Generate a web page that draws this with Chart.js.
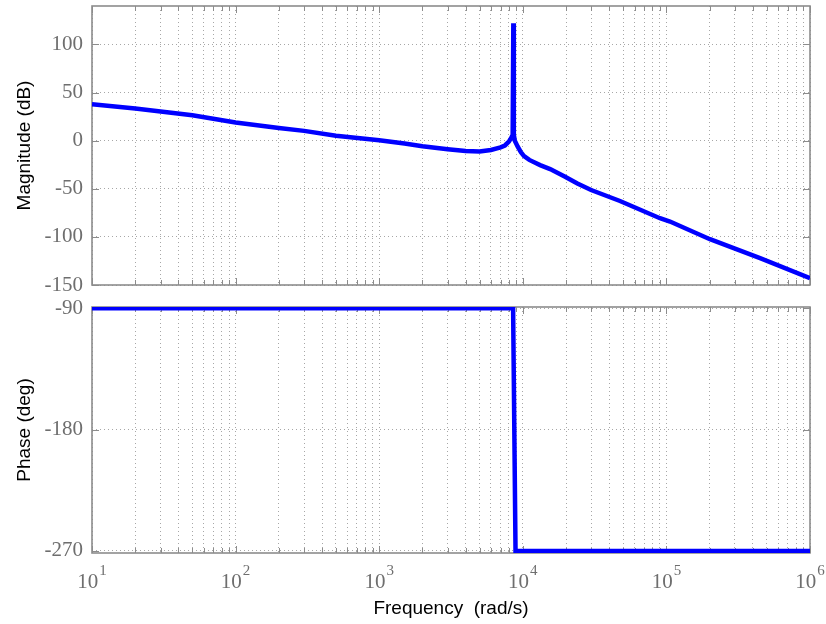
<!DOCTYPE html>
<html>
<head>
<meta charset="utf-8">
<title>Bode Diagram</title>
<script src="https://cdn.jsdelivr.net/npm/chart.js@4.4.1/dist/chart.umd.min.js"></script>
<style>
  html, body { margin: 0; padding: 0; background: #ffffff; }
  #wrap { position: relative; width: 826px; height: 624px; }
  #wrap canvas { position: absolute; left: 0; top: 0; }
</style>
</head>
<body>
<div id="wrap">
  <canvas id="mag" width="826" height="624"></canvas>
  <canvas id="phase" width="826" height="624"></canvas>
</div>
<script>
// Frequency response samples (rad/s) and magnitude (dB)
const freqMag = [10, 20, 50, 100, 200, 300, 500, 1000, 1500, 2000, 3000, 4000, 5000, 6000, 7000,
  7500, 8000, 8300, 8500, 8590, 8660, 8800, 9200, 9700, 10200, 11100, 12200, 13200, 15500, 19700,
  24000, 29900, 47500, 90200, 105900, 201000, 449000, 1000000];
const magDb = [37.8, 33.4, 26.4, 19.0, 13.3, 10.2, 5.2, 0.5, -2.9, -5.7, -8.8, -10.6, -11.2, -9.6, -7.0,
  -5.0, -1.0, 3.0, 6.0, 122.0, 6.0, 0.0, -6.0, -12.0, -16.0, -20.0, -23.0, -25.4, -29.5, -37.5,
  -44.5, -51.3, -62.7, -80.6, -84.0, -102.4, -122.0, -142.8];

// Phase (deg)
const freqPhase = [10, 8560, 8900, 1000000];
const phaseDeg = [-90, -90, -270, -270];

// Axis ticks
const magTicks = [-150, -100, -50, 0, 50, 100];
const phaseTicks = [-270, -180, -90];
const decadeExps = [1, 2, 3, 4, 5, 6];

const LINE_BLUE = '#0000ff';
const TICK_GREY = '#6e6e6e';
const FRAME_GREY = '#8c8c8c';
const GRID_GREY = 'rgba(80,80,80,0.5)';
const SERIF = '"Liberation Serif", "Times New Roman", serif';
const SANS = '"Liberation Sans", Arial, sans-serif';

// Log-axis tick values: 1..9 x 10^n within the decades listed
function logTickValues() {
  const out = [];
  for (let i = 0; i < decadeExps.length; i++) {
    const base = Math.pow(10, decadeExps[i]);
    if (i === decadeExps.length - 1) { out.push({ value: base, major: true }); break; }
    for (let m = 1; m <= 9; m++) out.push({ value: m * base, major: m === 1 });
  }
  return out;
}

// Box outline, inward tick marks and 10^n labels
const bodeFrame = {
  id: 'bodeFrame',
  beforeDatasetsDraw(chart) {
    const { ctx, chartArea: a, scales: { x, y } } = chart;
    ctx.save();
    ctx.strokeStyle = FRAME_GREY;
    ctx.lineWidth = 1;
    ctx.setLineDash([]);
    ctx.beginPath();
    x.ticks.forEach(t => {
      const px = Math.round(x.getPixelForValue(t.value)) + 0.5;
      const len = t.major ? 7 : 5;
      ctx.moveTo(px, a.bottom); ctx.lineTo(px, a.bottom - len);
      ctx.moveTo(px, a.top); ctx.lineTo(px, a.top + len);
    });
    y.ticks.forEach(t => {
      const py = Math.round(y.getPixelForValue(t.value)) + 0.5;
      ctx.moveTo(a.left, py); ctx.lineTo(a.left + 7, py);
      ctx.moveTo(a.right, py); ctx.lineTo(a.right - 7, py);
    });
    ctx.stroke();
    ctx.lineWidth = 1.6;
    ctx.strokeRect(a.left, a.top, a.right - a.left, a.bottom - a.top);
    ctx.restore();
  },
  afterDraw(chart, args, opts) {
    if (!opts.powerLabels) return;
    const { ctx, chartArea: a, scales: { x } } = chart;
    const baseFont = '21px ' + SERIF;
    const supFont = '15px ' + SERIF;
    ctx.save();
    ctx.fillStyle = TICK_GREY;
    ctx.textAlign = 'left';
    ctx.textBaseline = 'alphabetic';
    decadeExps.forEach(e => {
      const px = x.getPixelForValue(Math.pow(10, e));
      ctx.font = baseFont;
      const wb = ctx.measureText('10').width;
      ctx.font = supFont;
      const sup = String(e);
      const ws = ctx.measureText(sup).width;
      const start = px - (wb + 1 + ws) / 2;
      ctx.font = baseFont;
      ctx.fillText('10', start, a.bottom + 35);
      ctx.font = supFont;
      ctx.fillText(sup, start + wb + 1, a.bottom + 22);
    });
    ctx.restore();
  }
};

function xAxis(height, title) {
  return {
    type: 'logarithmic',
    position: 'bottom',
    min: 10,
    max: 1000000,
    afterBuildTicks: s => { s.ticks = logTickValues(); },
    afterFit: s => { s.height = height; s.paddingLeft = 0; s.paddingRight = 0; },
    ticks: { display: false },
    grid: { color: GRID_GREY, lineWidth: 1, drawTicks: false },
    border: { display: false, dash: [1, 3] },
    title: title ? {
      display: true, text: title, color: '#000000',
      font: { family: SANS, size: 19 }, padding: { top: 0, bottom: 4 }
    } : { display: false }
  };
}

function yAxis(min, max, tickList, title) {
  return {
    type: 'linear',
    position: 'left',
    min: min,
    max: max,
    afterBuildTicks: s => { s.ticks = tickList.map(v => ({ value: v })); },
    afterFit: s => { s.width = 92; s.paddingTop = 0; s.paddingBottom = 0; },
    ticks: {
      color: TICK_GREY, padding: 9,
      font: { family: SERIF, size: 21 },
      callback: v => String(v)
    },
    grid: { color: GRID_GREY, lineWidth: 1, drawTicks: false },
    border: { display: false, dash: [1, 3] },
    title: {
      display: true, text: title, color: '#000000',
      font: { family: SANS, size: 19 }, padding: { top: 13, bottom: 0 }
    }
  };
}

function makeChart(id, xs, ys, pad, xa, ya, powerLabels) {
  return new Chart(document.getElementById(id), {
    type: 'line',
    data: {
      datasets: [{
        data: xs.map((f, i) => ({ x: f, y: ys[i] })),
        borderColor: LINE_BLUE,
        borderWidth: 4.5,
        pointRadius: 0,
        tension: 0,
        fill: false,
        borderJoinStyle: 'miter'
      }]
    },
    options: {
      responsive: false,
      animation: false,
      devicePixelRatio: 1,
      layout: { padding: pad },
      scales: { x: xa, y: ya },
      plugins: {
        legend: { display: false },
        tooltip: { enabled: false },
        bodeFrame: { powerLabels: powerLabels }
      }
    },
    plugins: [bodeFrame]
  });
}

// Magnitude panel
makeChart('mag', freqMag, magDb,
  { top: 6, right: 16, bottom: 339, left: 0 },
  xAxis(0, null),
  yAxis(-150, 140, magTicks, 'Magnitude (dB)'),
  false);

// Phase panel
makeChart('phase', freqPhase, phaseDeg,
  { top: 307, right: 16, bottom: 0, left: 0 },
  xAxis(71, 'Frequency  (rad/s)'),
  yAxis(-271.5, -89, phaseTicks, 'Phase (deg)'),
  true);
</script>
</body>
</html>
